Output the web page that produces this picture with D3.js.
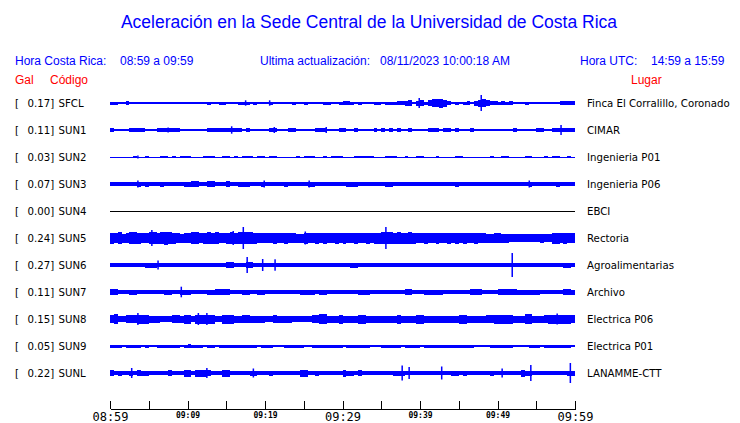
<!DOCTYPE html>
<html><head><meta charset="utf-8">
<script src="https://cdn.jsdelivr.net/npm/d3@7/dist/d3.min.js"></script>
<style>html,body{margin:0;padding:0;background:#fff;} svg{display:block;}</style>
</head><body>
<svg id="c" width="740" height="423"></svg>
<script>
// ---------------- data ----------------
const codes  = ["SFCL","SUN1","SUN2","SUN3","SUN4","SUN5","SUN6","SUN7","SUN8","SUN9","SUNL"];
const gal    = [0.17,0.11,0.03,0.07,0.00,0.24,0.27,0.11,0.15,0.05,0.22];
const places = ["Finca El Corralillo, Coronado","CIMAR","Ingenieria P01","Ingenieria P06","EBCI","Rectoria",
                "Agroalimentarias","Archivo","Electrica P06","Electrica P01","LANAMME-CTT"];

// envelope (half amplitude) per 30-second window, 120 windows per hour
const SFCL = [1.5,1.5,0.6,0.6,1.8,0.6,0.6,0.6,1.3,1.3, 1.3,1.3,1,0.6,1.3,1.3,0.6,1,0.6,0.6,
  0.6,0.6,1.3,1,1,1.5,1.3,1,1.5,1.5, 1.3,0.6,0.6,1.5,1.5,1.5,0.6,1.5,1.3,0.6,
  0.6,1.5,0.6,0.6,1.3,1,0.6,1.5,1.3,0.6, 1.5,0.6,0.6,1,0.6,1.5,1.5,0.6,0.6,1.5,
  2,2,1.5,1,1.5,0.6,1,0.6,1.5,1.5, 1,1.5,1.5,1.5,2,2,2.5,3,1,2.5,
  3,1.5,3,4,4,4.5,3.5,2,1,1.5, 1.3,1.5,2,1,2.5,3.5,4,3,2,2,
  1.5,2,1.5,2,1.3,1.3,1,1.5,1,1.3, 1,1.3,1,1.3,1,1,2,2,2,2];
const SUN1 = [1.7,1.3,0.6,1,1.3,1.7,1.7,1.7,1.7,0.6, 1,0.6,1.7,1.7,1.7,1.7,1.7,1.7,0.6,1.3,
  1,1,0.6,1.3,1,1.7,1.7,1.7,1.7,1.7, 1.7,2,2,2,1.3,1.7,0.6,0.6,0.6,1,
  0.6,1.7,1.7,0.6,1,0.6,1.7,1.7,1.3,0.6, 1,0.6,1.3,1.7,1.7,1.7,0.6,1,0.6,1.7,
  1.7,1.3,0.6,1.7,1.3,1,0.6,0.6,1.7,1, 1.7,1.3,1.7,1,1.7,1,0.6,1.7,1.3,0.6,
  0.6,0.6,1.7,1.7,1.7,1.3,1.7,1.7,1.3,1.7, 1.3,1,0.6,1.7,1.3,0.6,1,1.3,1.3,1,
  1.3,0.6,0.6,0.6,1.7,1.3,0.6,1,1,0.6, 1.7,1.7,1.3,0.6,1.7,1.7,1.7,1.7,1.7,1.7];
const SUN2 = [0.5,0.5,0.5,0.5,0.5,0.5,1,0.5,0.5,1, 0.5,0.5,0.5,1,1,0.5,1,0.5,1,1.2,
  1.2,0.5,0.5,0.5,1.2,1.3,1.2,0.5,0.5,1, 1,0.5,1,0.5,1.2,1.2,1,0.5,1,1,
  0.5,1,1,0.5,0.5,0.5,0.5,0.5,1,0.5, 1.2,1,1,0.5,0.5,1,0.5,1,1,1,
  0.5,0.5,0.5,1,1,1,1,1,0.5,0.5, 0.5,1.2,1,1,0.5,0.5,1,0.5,0.5,1,
  1,0.5,0.5,0.5,1,0.5,0.5,0.5,0.5,1.2, 1,0.5,0.5,0.5,0.5,0.5,0.5,0.5,1,0.5,
  0.5,1,1,0.5,0.5,0.5,0.5,1.2,1,0.5, 0.5,0.5,1,0.5,1,1,0.5,0.5,1,0.5];
const SUN3 = [1.7,1.7,1.7,1.7,1.7,1.7,1.7,2.5,1.7,2.5, 1.7,1.7,1.7,2.5,1.7,1.7,1.7,1.7,2.3,2.5,
  2.5,2.7,2.7,1.7,1.7,2.7,2.7,1.7,1.7,1.7, 2.7,2.3,2.3,2.5,2.5,2.5,1.7,1.7,1.7,2.5,
  1.7,2.3,1.7,1.7,1.7,2.5,1.7,1.7,1.7,1.7, 1.7,2.5,2.5,1.7,1.7,1.7,1.7,1.7,1.7,1.7,
  1.7,2.5,2.5,2.5,1.7,1.7,1.7,2.3,1.7,1.7, 1.7,2.5,2.5,2.3,2.3,2.3,1.7,1.7,1.7,1.7,
  1.7,1.7,1.7,1.7,1.7,1.7,1.7,2.3,1.7,2.5, 1.7,1.7,1.7,1.7,1.7,1.7,2.3,1.7,2.3,1.7,
  1.7,1.7,2.3,2.3,1.7,1.7,1.7,1.7,2.5,1.7, 1.7,1.7,1.7,1.7,1.7,2.5,1.7,1.7,1.7,1.7];
const SUN4 = [0,0,0,0,0,0,0,0,0,0, 0,0,0,0,0,0,0,0,0,0, 0,0,0,0,0,0,0,0,0,0, 0,0,0,0,0,0,0,0,0,0,
  0,0,0,0,0,0,0,0,0,0, 0,0,0,0,0,0,0,0,0,0, 0,0,0,0,0,0,0,0,0,0, 0,0,0,0,0,0,0,0,0,0,
  0,0,0,0,0,0,0,0,0,0, 0,0,0,0,0,0,0,0,0,0, 0,0,0,0,0,0,0,0,0,0, 0,0,0,0,0,0,0,0,0,0];
const SUN5 = [5.5,5,6,4.5,5,6,6,5.5,5,5, 6,6,5.5,6,6.5,6,5.5,5,4.5,5,
  5,6,6,5,5.5,6,5.5,6,5,5, 5.5,6,5.5,6,6,6,6,5.5,5,5,
  5,5,5.5,5,5,5.5,5,5,4.5,4.5, 5.5,5,5,5.5,5,5.5,5,5,5.5,5,
  5.5,5,5,5.5,5,5,5.5,5,5.5,5.5, 6,6,6,5.5,6,5.5,5.5,6,5.5,5,
  5,5.5,5,5,5.5,5,5,5.5,5,5.5, 5,5.5,5,5,5.5,5,5,4.5,4.5,5,
  5,4.5,4.5,4,4,4,4,4,4,4, 4,4.5,4,4,5.5,5.5,5,5.5,5,5];
const SUN6 = [1.8,1.8,1.8,1.8,1.8,1.8,1.8,1.8,1.8,2.5, 2.5,2.5,2.3,1.8,2.3,2.3,1.8,2.3,1.8,1.8,
  1.8,1.8,2.3,1.8,1.8,2.3,1.8,1.8,1.8,1.8, 3,3,1.8,2.3,1.8,3,3.3,1.8,1.8,2.3,
  1.8,2.3,2.3,1.8,2.3,2.3,1.8,1.8,1.8,1.8, 1.8,1.8,1.8,1.8,1.8,2.3,1.8,1.8,1.8,1.8,
  1.8,1.8,2.5,2.5,1.8,1.8,1.8,1.8,1.8,1.8, 1.8,1.8,1.8,2.3,2.3,1.8,2.3,2.3,1.8,1.8,
  1.8,1.8,1.8,1.8,2.3,2.3,1.8,1.8,1.8,1.8, 2.3,1.8,2.3,2.3,1.8,1.8,1.8,1.8,1.8,1.8,
  1.8,1.8,2.3,2.3,1.8,2.3,1.8,1.8,1.8,1.8, 1.8,1.8,1.8,1.8,1.8,1.8,1.8,2.5,2.5,2];
const SUN7 = [2.7,2.7,1.8,1.8,1.8,2.5,2.5,1.8,1.8,2.3, 1.8,2.3,1.8,1.8,2.5,2.5,1.8,1.8,2.5,2.5,
  2.5,2.3,2.3,1.8,1.8,2.5,2.5,2.7,2.7,2.7, 2.7,1.8,1.8,1.8,2.5,2.5,2.3,1.8,2.5,2.5,
  1.8,1.8,2.3,1.8,2.3,1.8,1.8,1.8,1.8,2.5, 2.5,2.5,2.5,1.8,2.5,2.5,1.8,2.3,2.3,2.3,
  2.3,2.3,2.3,2.3,2.5,2.5,2.5,1.8,1.8,2.3, 2.3,1.8,1.8,1.8,1.8,1.8,2.7,2.7,1.8,2.3,
  2.3,2.5,2.5,2.5,2.5,2.5,1.8,1.8,1.8,1.8, 1.8,1.8,1.8,3,3,3,1.8,2.3,2.3,1.8,
  2.7,2.7,2.7,2.7,2.7,2.5,2.5,2.5,2.5,2.5, 2.5,2.3,2.3,1.8,1.8,1.8,1.8,2.7,2.7,2.5];
const SUN8 = [4,5,3,3,4,4,4,4.5,4.5,4.5, 3.5,3.5,3.5,3,3,3,4,4,3.5,4.5,
  4.5,3,4.5,4.5,4.5,4.5,4.5,3,3,4.5, 4.5,4.5,3.5,3.5,4,4,3.5,3.5,3.5,3.5,
  3,3,4,3.5,3.5,3.5,3.5,3,3,3, 3,3,4,4,5,5,3.5,3.5,3.5,4.5,
  3.5,3.5,3.5,3.5,4.5,4.5,3.5,3.5,3.5,3.5, 3.5,3.5,3.5,3.5,4.5,3.5,3.5,3.5,3.5,4.5,
  4.5,3.5,3.5,3.5,3.5,3.5,3.5,3.5,3.5,3.5, 4.5,4.5,3.5,3.5,3.5,3.5,3.5,4,4,4.5,
  4.5,4.5,4.5,4.5,3.5,3.5,3.5,5,5,3.5, 3.5,3.5,4,4.5,4.5,4.5,4.5,4.5,4.5,4];
const SUN9 = [1.5,1.5,1.5,0.6,1.5,1.5,1.5,1.5,0.6,1.5, 0.6,1.3,1.5,1.5,1.5,1.5,1.5,1.5,1,1.5,
  2,1.5,1.5,1.5,0.6,1.5,1.5,0.6,1.5,1.5, 1.5,1.5,1.5,1.5,1.5,1.5,1.5,1.5,0.6,1.5,
  1.5,1.5,0.6,1.3,0.6,1.5,1.5,1.5,1.5,1.5, 1.3,0.6,1.5,1.5,1.5,1.5,1.5,1.5,1.5,1.5,
  0.6,1.5,1.5,1.5,1.5,1.5,1.5,0.6,1.3,0.6, 1.5,1.5,1.5,1.5,1.5,0.6,1.5,1.5,1.5,1.5,
  0.6,1.5,1.5,1.5,1.5,1.5,1.5,1.5,1.5,1.5, 1.5,1.5,1.5,1.5,0.6,1.3,1.3,0.6,1.5,1.5,
  1.5,1.5,1.5,1.5,0.6,1.3,1.3,0.6,1.5,1.5, 1.5,0.6,1.5,1.5,1.5,1.5,1.5,1.5,1.5,1.3];
const SUNL = [3,2,2.5,2,2,2.5,1.8,3,2.5,2.5, 2,2,2,2.3,2,3,1.8,1.8,1.8,3.5,
  3.5,2,3.5,3.5,3.5,3,2,2.3,2,3.5, 3.5,1.8,1.8,1.8,1.8,1.8,2.5,2.5,1.8,2.3,
  1.8,2.5,1.8,1.8,1.8,1.8,1.8,1.8,2,3.5, 3.5,2,2.3,2.5,1.8,2.3,1.8,1.8,1.8,2,
  3.5,2.5,2.5,1.8,3,2.3,1.8,1.8,2.3,1.8, 2.3,1.8,1.8,2.5,2.5,2.5,2,2.3,1.8,2.3,
  1.8,1.8,1.8,1.8,1.8,2.3,1.8,1.8,2.5,2.5, 2.3,2.5,1.8,2.3,1.8,1.8,1.8,1.8,2.5,1.8,
  1.8,2.3,1.8,1.8,1.8,1.8,3.5,2.5,2.5,2, 2.3,2.3,1.8,1.8,2.3,1.8,1.8,2,2.5,2.5];
const traces = [SFCL,SUN1,SUN2,SUN3,SUN4,SUN5,SUN6,SUN7,SUN8,SUN9,SUNL];

// narrow peaks: station, minute after 08:59, half amplitude
const peakCode   = ["SFCL","SFCL","SFCL","SFCL","SUN1","SUN1","SUN1","SUN1","SUN1","SUN2",
                    "SUN3","SUN3","SUN3","SUN3","SUN5","SUN5","SUN5","SUN5","SUN5",
                    "SUN6","SUN6","SUN6","SUN6","SUN6","SUN7","SUN8","SUN8","SUN8","SUN8",
                    "SUNL","SUNL","SUNL","SUNL","SUNL","SUNL","SUNL","SUNL","SUNL"];
const peakMinute = [17.5,20.6,39.9,47.9, 7.5,15.7,21.2,27.9,58.2, 3.6,
                    3.6,19.9,25.7,54.1, 5.4,15.9,17.2,25.2,35.6,
                    6.2,17.7,19.7,21.3,51.9, 9.2, 3.6,11.4,12.5,57.7,
                    2.8,12.5,18.5,37.7,38.6,42.8,50.6,54.3,59.4];
const peakAmp    = [2.7,2.7,5,8, 2.5,3.7,3,3,5, 1.5,
                    3.5,3.5,3.5,3.5, 8,7,11,6.5,11,
                    4.5,8,6,5.7,12, 5.3, 6,6,6,5.5,
                    5,5,4.5,7.5,6,6.5,4.5,8,10];

const tickMinutes = [0,5,10,15,20,25,30,35,40,45,50,55,60];
const tickLabels  = ["08:59","","09:09","","09:19","","09:29","","09:39","","09:49","","09:59"];
const bigTicks    = ["08:59","09:29","09:59"];

// ---------------- drawing ----------------
const svg = d3.select("#c");
const BLUE = "#0000ff", RED = "#ff0000";
const sans = "'Liberation Sans', Arial, sans-serif";
const dv = "'DejaVu Sans', sans-serif";
const mono = "'DejaVu Sans Mono', monospace";

const x = d3.scaleLinear().domain([0, 60]).range([110, 575]);
const row = d3.scalePoint().domain(codes).range([103, 373]);
const amp = d3.scaleLinear().domain([0, 10]).range([0, 10]);

svg.append("text").attr("x", 369).attr("y", 28).attr("text-anchor", "middle")
  .attr("font-family", sans).attr("font-size", 17.5).attr("fill", BLUE)
  .text("Aceleración en la Sede Central de la Universidad de Costa Rica");

const hdr = [
  {t:"Hora Costa Rica:", x:15}, {t:"08:59 a 09:59", x:120},
  {t:"Ultima actualización:", x:260}, {t:"08/11/2023 10:00:18 AM", x:380},
  {t:"Hora UTC:", x:580}, {t:"14:59 a 15:59", x:651}
];
svg.selectAll("text.hdr").data(hdr).join("text").attr("class","hdr")
  .attr("x", d=>d.x).attr("y", 65).attr("font-family", sans).attr("font-size", 12)
  .attr("fill", BLUE).text(d=>d.t);

[{t:"Gal",x:15},{t:"Código",x:50},{t:"Lugar",x:631}].forEach(d=>{
  svg.append("text").attr("x", d.x).attr("y", 84).attr("font-family", sans)
    .attr("font-size", 12).attr("fill", RED).text(d.t);
});

const rows = svg.selectAll("g.row").data(codes).join("g").attr("class","row");
const lab = (sel) => sel.attr("font-family", dv).attr("font-size", 10.2).attr("fill", "#000");
rows.append("text").attr("x", 15).attr("y", c=>row(c)+4).call(lab).text("[");
rows.append("text").attr("x", 27.5).attr("y", c=>row(c)+4).call(lab).text((c,i)=>gal[i].toFixed(2) + "]");
rows.append("text").attr("x", 58.5).attr("y", c=>row(c)+4).call(lab).text(c=>c);
rows.append("text").attr("x", 587).attr("y", c=>row(c)+4).call(lab).text((c,i)=>places[i]);

// centre lines
rows.append("line").attr("x1", x(0)).attr("x2", x(60))
  .attr("y1", c=>row(c)).attr("y2", c=>row(c))
  .attr("stroke", c=>c==="SUN4" ? "#000" : BLUE).attr("stroke-width", 1)
  .attr("shape-rendering","crispEdges");

// envelopes
rows.each(function(c, i){
  const vals = traces[i];
  d3.select(this).selectAll("rect.env").data(vals.filter(v=>v>0).length ? vals : []).join("rect")
    .attr("class","env")
    .attr("x", (v,j)=>x(j*0.5))
    .attr("width", (v,j)=>x((j+1)*0.5)-x(j*0.5))
    .attr("y", v=>row(c)-amp(v))
    .attr("height", v=>2*amp(v))
    .attr("fill", BLUE).attr("shape-rendering","crispEdges");
});

// peaks
svg.selectAll("rect.peak").data(peakMinute).join("rect").attr("class","peak")
  .attr("x", (m)=>x(m)-0.75).attr("width", 1.5)
  .attr("y", (m,i)=>row(peakCode[i])-amp(peakAmp[i]))
  .attr("height", (m,i)=>2*amp(peakAmp[i]))
  .attr("fill", BLUE);

// time axis
const axis = d3.axisBottom(x).tickValues(tickMinutes)
  .tickSizeInner(-8).tickSizeOuter(0).tickPadding(3)
  .tickFormat((d,i)=>tickLabels[i]);
const ax = svg.append("g").attr("transform","translate(0,409)").call(axis);
ax.select(".domain").attr("stroke","#000").attr("shape-rendering","crispEdges");
ax.selectAll(".tick line").attr("stroke","#000").attr("shape-rendering","crispEdges");
ax.selectAll(".tick text").attr("fill","#000")
  .attr("font-family", mono)
  .attr("font-size", d=>bigTicks.includes(tickLabels[tickMinutes.indexOf(d)]) ? 12 : 8)
  .attr("font-weight", d=>bigTicks.includes(tickLabels[tickMinutes.indexOf(d)]) ? "normal" : "bold");
</script>
</body></html>
